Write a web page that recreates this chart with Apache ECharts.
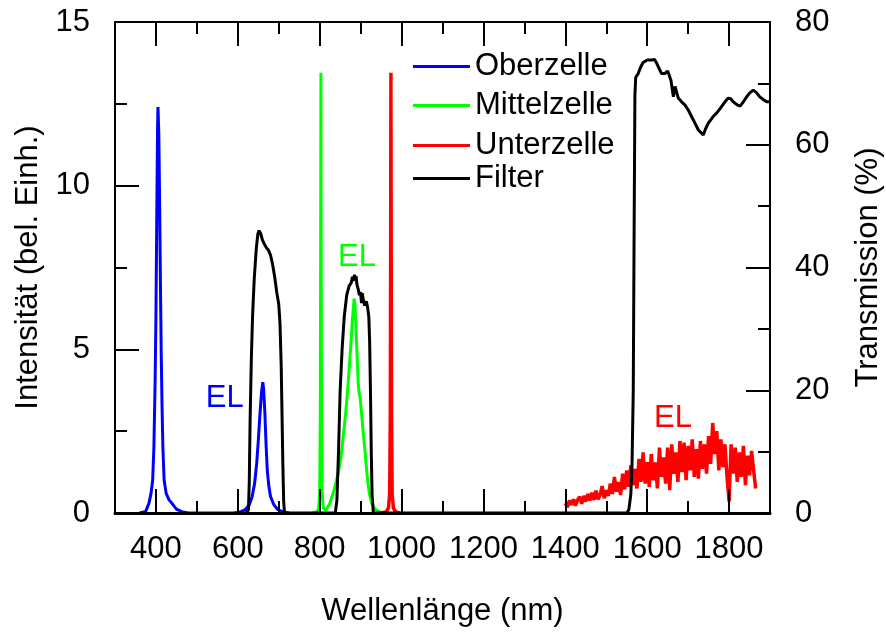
<!DOCTYPE html>
<html>
<head>
<meta charset="utf-8">
<script src="https://cdn.jsdelivr.net/npm/echarts@6/dist/echarts.min.js"></script>
<style>
html,body{margin:0;padding:0;background:#fff;}
#main{width:886px;height:633px;}
</style>
</head>
<body>
<div id="main"></div>
<script>
// ---------- data ----------
var xMajorTicks = [400, 600, 800, 1000, 1200, 1400, 1600, 1800];
var xMinorTicks = [500, 700, 900, 1100, 1300, 1500, 1700];
var legendNames = ['Oberzelle', 'Mittelzelle', 'Unterzelle', 'Filter'];

// Oberzelle (blue): laser line + EL
var oberzelle = [
  [360,0],[375,0.05],[383,0.3],[388,0.6],[392,1.0],[395,2.0],[398,4.0],[400,6.0],[402,9.0],[404,11.8],[405,12.4],
  [407,11.6],[409,9.5],[411,7.0],[413,4.8],[415,3.2],[417,2.0],[420,1.0],[425,0.6],[432,0.4],[440,0.28],[450,0.12],[465,0.03],[480,0],
  [590,0],[605,0.03],[618,0.1],[628,0.25],[635,0.5],[641,0.9],[646,1.5],[650,2.2],[654,3.0],[658,3.7],[661,4.0],
  [663,3.8],[666,3.1],[669,2.1],[672,1.3],[676,0.8],[680,0.5],[688,0.25],[698,0.1],[712,0.03],[725,0]
];

// Mittelzelle (green): laser line + EL
var mittelzelle = [
  [780,0],[790,0.02],[797,0.1],[800,0.6],[801.5,3],[802.5,9],[803,13.45],[803.5,9],[804.5,3],[806,0.6],[809,0.15],
  [815,0.08],[825,0.3],[835,0.7],[845,1.2],[852,1.7],[858,2.4],[863,3.0],[868,3.7],[872,4.4],[876,5.1],[880,5.9],[884,6.55],
  [886,6.4],[888,5.9],[890,5.2],[892,4.6],[894,4.0],[896,3.7],[899,3.5],[902,3.1],[906,2.5],[910,2.0],[914,1.4],[918,0.9],
  [922,0.55],[927,0.3],[935,0.12],[945,0.04],[955,0]
];

// Unterzelle (red): laser line + EL
var unterzelleLaser = [
  [950,0],[962,0.03],[968,0.15],[971,0.6],[972.5,3],[973.5,9],[974,13.45],[974.5,9],[975.5,3],[977,0.6],[980,0.15],[986,0.03],[995,0]
];
var unterzelleELx = [
  1400,1405,1410,1415,1420,1425,1430,1435,1440,1445,1450,1455,1460,1465,1470,1475,1480,1485,1490,1495,
  1500,1505,1510,1515,1520,1525,1530,1535,1540,1545,1550,1555,1560,1565,1570,1575,1580,1585,1590,1595,
  1600,1605,1610,1615,1620,1625,1630,1635,1640,1645,1650,1655,1660,1665,1670,1675,1680,1685,1690,1695,
  1700,1705,1710,1715,1720,1725,1730,1735,1740,1745,1750,1755,1760,1765,1770,1775,1780,1785,1790,1795,
  1800,1805,1810,1815,1820,1825,1830,1835,1840,1845,1850,1855,1860,1865
];
var unterzelleELy = [
  0.30,0.18,0.38,0.25,0.42,0.22,0.40,0.50,0.28,0.52,0.35,0.58,0.38,0.62,0.40,0.68,0.42,0.55,0.82,0.45,
  0.70,0.52,0.90,0.58,1.10,0.65,0.95,0.55,1.20,0.72,1.30,0.80,1.45,0.85,1.35,0.75,1.65,0.95,1.85,0.90,
  1.55,0.80,1.80,1.00,1.55,0.75,2.00,1.10,1.70,0.90,2.00,0.70,2.10,1.20,1.85,0.95,2.20,1.25,2.15,1.00,
  2.05,1.30,2.25,1.10,1.95,1.05,2.20,1.35,2.10,1.20,2.35,1.50,2.75,1.80,2.50,1.30,2.25,1.40,2.10,1.10,
  0.35,2.10,1.20,2.00,0.95,1.85,1.10,2.05,0.85,1.75,1.15,1.90,1.30,0.75
];

// Filter transmission (%) on right axis
var filter = [
  [600,0],[620,0],[626,0.5],[628,5],[630,15],[633,25],[636,32],[640,38],[645,43],[649,45.5],[652,46],[656,45.5],[660,44.5],
  [665,43.8],[670,43.2],[675,42.8],[680,42],[685,40.5],[690,38.5],[695,36],[700,34],[703,31],[706,24],[708,16],[710,8],[712,2],[714,0],
  [838,0],[842,2],[846,10],[850,20],[855,27],[860,32],[866,35.5],[872,37],[877,37.5],[880,38.5],[882,37.8],[885,38.8],[887,38],
  [889,38.6],[891,37.2],[894,36.5],[897,35.5],[900,36],[902,34.2],[904,35.8],[907,34.5],[910,33.8],[914,34.5],[917,33.5],[920,32],
  [922,28],[924,20],[926,10],[928,3],[931,0],
  [1550,0],[1555,0.5],[1560,3],[1563,8],[1566,20],[1568,45],[1570,68],[1572,71],[1578,71.6],[1585,72.8],[1590,73.4],[1600,73.8],
  [1611,73.8],[1618,73.9],[1623,73.3],[1630,72.3],[1635,71.6],[1643,71.6],[1650,72.0],[1654,72.1],[1658,70.5],[1664,67.8],
  [1668,69.5],[1672,69.2],[1676,67.6],[1684,67.0],[1692,66.5],[1700,65.7],[1713,64.0],[1725,62.4],[1737,61.6],[1742,62.5],
  [1749,63.5],[1761,64.6],[1770,65.2],[1778,65.9],[1790,67.0],[1798,67.6],[1804,67.5],[1810,67.0],[1820,66.5],[1827,66.3],
  [1835,67.0],[1843,67.8],[1850,68.4],[1859,68.9],[1867,68.5],[1875,67.8],[1885,67.3],[1892,67.0],[1900,67.0]
];

// EL annotation positions (data coords)
var elBlue = [568, 3.5];
var elGreen = [891, 7.8];
var elRed = [1663, 2.9];

// ---------- build ----------
var unterzelle = unterzelleLaser.concat([[1200, null]]);
for (var i = 0; i < unterzelleELx.length; i++) unterzelle.push([unterzelleELx[i], unterzelleELy[i]]);

var FONT = 'Liberation Sans, Arial, Helvetica, sans-serif';
var FS = 31;
var BLUE = '#0000ff', GREEN = '#00ff00', RED = '#ff0000', BLACK = '#000000';

function plain(v) { return String(v); }

function xAx(pos, ticks, len, labels, showLine) {
  return {
    type: 'value', position: pos, min: 300, max: 1900, interval: 100, z: 10,
    gridIndex: 0,
    axisLine: {show: showLine, onZero: false, lineStyle: {color: BLACK, width: pos === 'bottom' ? 3 : 2}},
    axisTick: {show: true, inside: true, length: len, customValues: ticks, lineStyle: {color: BLACK, width: 2}},
    axisLabel: labels ? {show: true, customValues: ticks, formatter: plain, color: BLACK, fontSize: FS, fontFamily: FONT, margin: 21} : {show: false},
    splitLine: {show: false},
    name: (labels ? 'Wellenlänge (nm)' : ''),
    nameLocation: 'middle', nameGap: 83,
    nameTextStyle: {color: BLACK, fontSize: FS, fontFamily: FONT}
  };
}

function markEL(coord, color) {
  return {
    silent: true, symbol: 'circle', symbolSize: 0, animation: false,
    label: {show: true, position: 'inside', formatter: 'EL', color: color, fontSize: FS, fontFamily: FONT},
    data: [{coord: coord}]
  };
}

function lineSeries(name, data, color, yIdx, mp, w) {
  var s = {
    name: name, type: 'line', data: data, xAxisIndex: 0, yAxisIndex: yIdx,
    showSymbol: false, symbol: 'none', connectNulls: false, animation: false,
    lineStyle: {color: color, width: w || 3}, itemStyle: {color: color},
    emphasis: {disabled: true}
  };
  if (mp) s.markPoint = mp;
  return s;
}

var legendRows = [65, 104, 144, 177];
var legends = legendNames.map(function (n, k) {
  return {
    data: [n], left: 413, top: legendRows[k] - 14, orient: 'vertical', padding: 0,
    icon: 'rect', itemWidth: 57, itemHeight: 3, selectedMode: false,
    textStyle: {color: BLACK, fontSize: FS, fontFamily: FONT}
  };
});

var option = {
  backgroundColor: '#ffffff',
  animation: false,
  grid: {left: 115, top: 22, width: 655, height: 491, containLabel: false, outerBoundsMode: 'none'},
  legend: legends,
  xAxis: [
    xAx('bottom', xMajorTicks, 24, true, true),
    xAx('bottom', xMinorTicks, 12, false, false),
    xAx('top', xMajorTicks, 24, false, true),
    xAx('top', xMinorTicks, 12, false, false)
  ],
  yAxis: [
    {
      type: 'value', position: 'left', min: 0, max: 15, interval: 5, z: 10,
      axisLine: {show: true, lineStyle: {color: BLACK, width: 2}},
      axisTick: {show: true, inside: true, length: 24, lineStyle: {color: BLACK, width: 2}},
      minorTick: {show: true, splitNumber: 2, length: 12, lineStyle: {color: BLACK, width: 2}},
      axisLabel: {color: BLACK, fontSize: FS, fontFamily: FONT, margin: 25},
      splitLine: {show: false}, minorSplitLine: {show: false},
      name: 'Intensität (bel. Einh.)', nameLocation: 'middle', nameGap: 71, nameRotate: 90,
      nameTextStyle: {color: BLACK, fontSize: FS, fontFamily: FONT}
    },
    {
      type: 'value', position: 'right', min: 0, max: 80, interval: 20, z: 10,
      axisLine: {show: true, lineStyle: {color: BLACK, width: 2}},
      axisTick: {show: true, inside: true, length: 24, lineStyle: {color: BLACK, width: 2}},
      minorTick: {show: true, splitNumber: 2, length: 12, lineStyle: {color: BLACK, width: 2}},
      axisLabel: {color: BLACK, fontSize: FS, fontFamily: FONT, margin: 25},
      splitLine: {show: false}, minorSplitLine: {show: false},
      name: 'Transmission (%)', nameLocation: 'middle', nameGap: 83, nameRotate: 90,
      nameTextStyle: {color: BLACK, fontSize: FS, fontFamily: FONT}
    }
  ],
  series: [
    lineSeries('Oberzelle', oberzelle, BLUE, 0, markEL(elBlue, BLUE), 3),
    lineSeries('Mittelzelle', mittelzelle, GREEN, 0, markEL(elGreen, GREEN), 3),
    lineSeries('Unterzelle', unterzelle, RED, 0, markEL(elRed, RED), 3.5),
    lineSeries('Filter', filter, BLACK, 1, null, 3)
  ]
};

var chart = echarts.init(document.getElementById('main'), null, {renderer: 'canvas'});
chart.setOption(option);
</script>
</body>
</html>
